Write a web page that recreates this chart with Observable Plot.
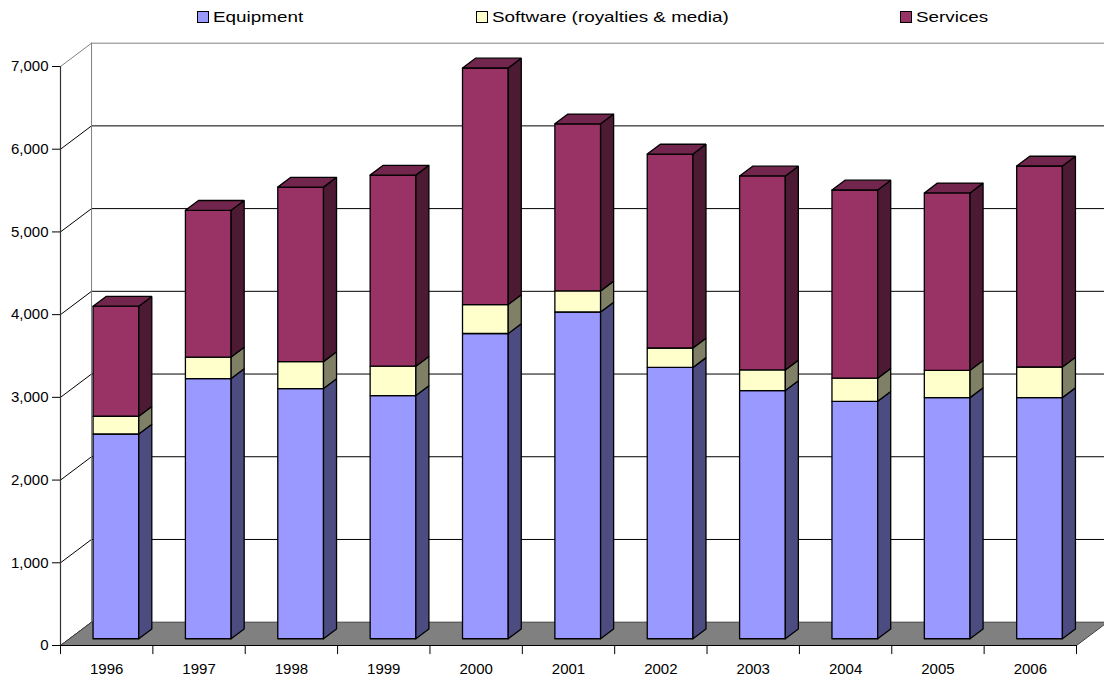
<!DOCTYPE html>
<html><head><meta charset="utf-8">
<script src="https://cdn.jsdelivr.net/npm/d3@7"></script>
<script src="https://cdn.jsdelivr.net/npm/@observablehq/plot@0.6"></script>
<style>
body{margin:0;background:#fff;font-family:"Liberation Sans",Arial,sans-serif;}
#legend{position:relative;height:32px;width:1104px;}
.sw{position:absolute;top:11px;width:12px;height:12px;box-sizing:border-box;border:1px solid #000;}
.lt{position:absolute;top:10.4px;font-size:14.5px;line-height:14.5px;transform:scaleX(1.3);transform-origin:0 0;white-space:nowrap;color:#000;}
#chart svg{display:block}
#chart text{font-size:15px !important;font-family:"Liberation Sans",Arial,sans-serif !important;fill:#000;}
</style></head><body>
<div id="legend"></div><div id="chart"></div>
<script>
// ---- data ----
const years = ["1996","1997","1998","1999","2000","2001","2002","2003","2004","2005","2006"];
const equipment = [2475, 3145, 3025, 2940, 3690, 3950, 3280, 3000, 2870, 2915, 2915];
const software  = [215, 260, 325, 355, 350, 255, 235, 250, 280, 330, 370];
const services  = [1330, 1775, 2110, 2310, 2860, 2020, 2345, 2345, 2275, 2145, 2430];
const seriesNames = ["Equipment", "Software (royalties & media)", "Services"];
const frontColors = ["#9999ff", "#ffffcc", "#993366"];
const sideColors  = ["#4c4c80", "#808066", "#4d1a33"];
const topColors   = ["#7373bf", "#bfbf99", "#73264d"];
const yTicks = [0, 1000, 2000, 3000, 4000, 5000, 6000, 7000];
const legendX = [213, 492, 916];

// ---- oblique 3D projection (in data units) ----
const N = years.length, YMAX = 7000;
const DX = 0.336, DY = 282;          // full depth offset
const D0 = 0.29, D1 = 0.71;          // bar depth
const BX0 = 0.255, BX1 = 0.75;       // bar span in category
const P = (c, v, d) => ({x: c + d * DX, y: v + d * DY});

// legend
const leg = document.getElementById("legend");
seriesNames.forEach((name, k) => {
  const s = document.createElement("div");
  s.className = "sw"; s.style.left = (legendX[k] - 16) + "px"; s.style.background = frontColors[k];
  const t = document.createElement("div");
  t.className = "lt"; t.style.left = legendX[k] + "px"; t.textContent = name;
  leg.appendChild(s); leg.appendChild(t);
});

// walls & gridlines
const gridPts = [];
const seg = (id, a, b, stroke) => { gridPts.push({id, ...a, stroke}, {id, ...b, stroke}); };
yTicks.forEach(t => {
  const col = t === YMAX ? "#808080" : "#000";
  seg("d" + t, P(0, t, 0), P(0, t, 1), col);
  if (t > 0) seg("b" + t, P(0, t, 1), P(N, t, 1), col);
});
seg("wall", P(0, 0, 1), P(0, YMAX, 1), "#808080");

const floorPts = [P(0,0,0), P(N,0,0), P(N,0,1), P(0,0,1), P(0,0,0)];

const axisPts = [];
const aseg = (id, a, b, stroke) => { axisPts.push({id, ...a, stroke}, {id, ...b, stroke}); };
aseg("ya", P(0, 0, 0), P(0, YMAX, 0), "#333");
aseg("xa", P(0, 0, 0), P(N, 0, 0), "#000");

// bars
const barPts = [];
const poly = (id, pts, fill) => { pts.concat([pts[0]]).forEach(p => barPts.push({id, ...p, fill})); };
const series = [equipment, software, services];
years.forEach((yr, i) => {
  const x0 = i + BX0, x1 = i + BX1;
  let base = 0;
  series.forEach((arr, k) => {
    const top = base + arr[i];
    poly(`f${i}_${k}`, [P(x0,base,D0), P(x1,base,D0), P(x1,top,D0), P(x0,top,D0)], frontColors[k]);
    poly(`s${i}_${k}`, [P(x1,base,D0), P(x1,base,D1), P(x1,top,D1), P(x1,top,D0)], sideColors[k]);
    if (k === series.length - 1)
      poly(`t${i}_${k}`, [P(x0,top,D0), P(x1,top,D0), P(x1,top,D1), P(x0,top,D1)], topColors[k]);
    base = top;
  });
});

const centers = years.map((_, i) => i + 0.5);
const bounds = d3.range(0, N + 1);
const fmt = d3.format(",");

const chart = Plot.plot({
  width: 1104, height: 647,
  marginLeft: 60, marginRight: 28, marginTop: 34, marginBottom: 34,
  style: {fontFamily: "Liberation Sans, Arial, sans-serif", fontSize: "15px", color: "#000", background: "#fff", overflow: "visible"},
  x: {domain: [0, N], ticks: centers, tickFormat: d => years[Math.floor(d)], tickSize: 0, tickPadding: 18, label: null},
  y: {domain: [0, YMAX], ticks: yTicks, tickFormat: d => fmt(d), tickSize: 8, tickPadding: 4, label: null},
  color: {type: "identity"},
  marks: [
    Plot.line(gridPts, {x: "x", y: "y", z: "id", stroke: "stroke", strokeWidth: 1}),
    Plot.line(floorPts, {x: "x", y: "y", fill: "#808080", stroke: "#404040", strokeWidth: 1}),
    Plot.line(axisPts, {x: "x", y: "y", z: "id", stroke: "stroke", strokeWidth: 1.2}),
    Plot.ruleX(bounds, {y1: 0, y2: -110, stroke: "#000", strokeWidth: 1}),
    Plot.line(barPts, {x: "x", y: "y", z: "id", fill: "fill", stroke: "#000", strokeWidth: 1.3, strokeLinejoin: "miter"})
  ]
});
document.getElementById("chart").appendChild(chart);
</script>
</body></html>
